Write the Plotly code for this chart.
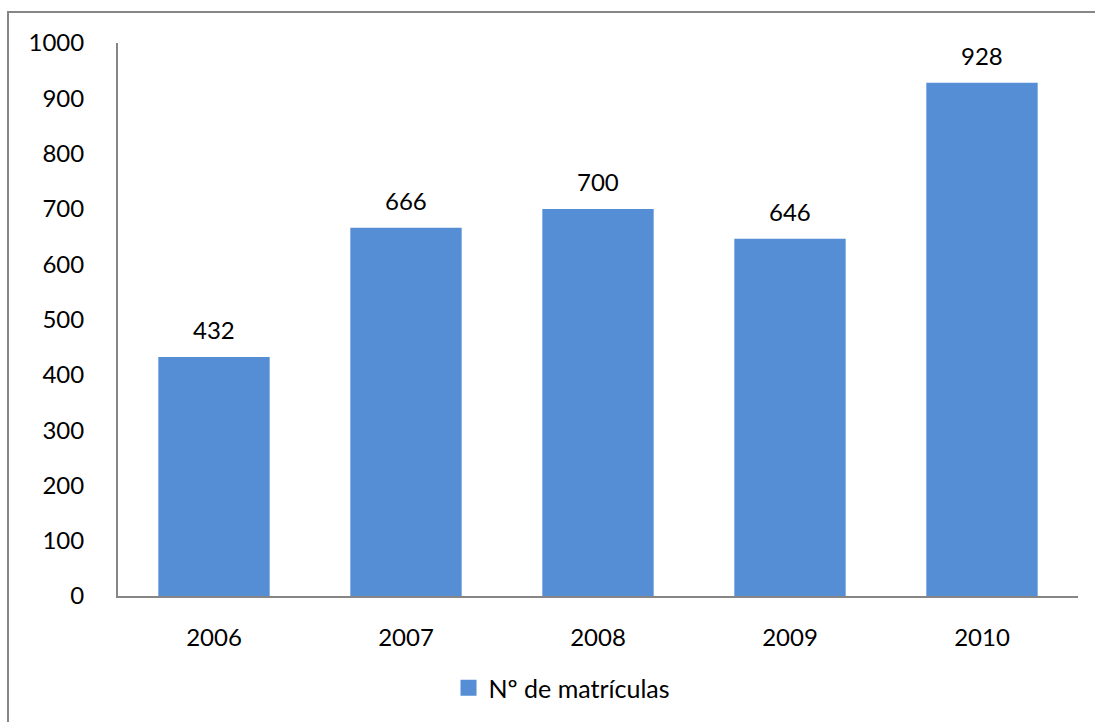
import plotly.graph_objects as go

years = ["2006", "2007", "2008", "2009", "2010"]
matriculas = [432, 666, 700, 646, 928]
series_name = "Nº de matrículas"
y_ticks = [0, 100, 200, 300, 400, 500, 600, 700, 800, 900, 1000]

W, H = 1095, 722
L, R, T, B = 118, 17, 43, 125
pw, ph = W - L - R, H - T - B

def px_to_paper_x(px):
    return (px - L) / pw

def px_to_paper_y(py):
    return (H - B - py) / ph

font_family = "Lato, 'Open Sans', sans-serif"
bar_color = "#558ED5"
fs = 24

fig = go.Figure()
fig.add_trace(go.Bar(
    x=years, y=matriculas, name=series_name,
    marker=dict(color=bar_color, line=dict(width=0)),
    width=0.58, showlegend=False,
))
# legend entry with a larger square swatch
fig.add_trace(go.Scatter(
    x=[years[0]], y=[None], mode="markers", name=series_name,
    marker=dict(symbol="square", size=16, color=bar_color),
    showlegend=True, hoverinfo="skip",
))

for i, v in enumerate(matriculas):
    fig.add_annotation(x=i, y=v, text=str(v), showarrow=False,
                       yanchor="bottom", yshift=11,
                       font=dict(size=fs, color="#000000", family=font_family))

fig.add_shape(type="rect", xref="paper", yref="paper",
              x0=px_to_paper_x(8), x1=px_to_paper_x(1110),
              y0=px_to_paper_y(740), y1=px_to_paper_y(12),
              line=dict(color="#868686", width=2), fillcolor="rgba(0,0,0,0)",
              layer="below")

fig.update_layout(
    width=W, height=H,
    margin=dict(l=L, r=R, t=T, b=B, pad=0),
    paper_bgcolor="white", plot_bgcolor="white",
    font=dict(family=font_family, size=fs, color="#000000"),
    legend=dict(orientation="h", x=px_to_paper_x(562), xanchor="center",
                y=px_to_paper_y(688), yanchor="middle",
                font=dict(size=fs + 1, family=font_family),
                itemwidth=30),
    xaxis=dict(type="category", range=[-0.5, len(years) - 0.5], showgrid=False,
               showline=True, linecolor="#868686", linewidth=2, ticks="",
               ticklabelstandoff=19, tickfont=dict(size=fs)),
    yaxis=dict(range=[0, 1000], tickvals=y_ticks, showgrid=False, showline=True,
               linecolor="#868686", linewidth=2, ticks="", zeroline=False,
               ticklabelstandoff=27, tickfont=dict(size=fs)),
)

fig.write_html("out.html")
